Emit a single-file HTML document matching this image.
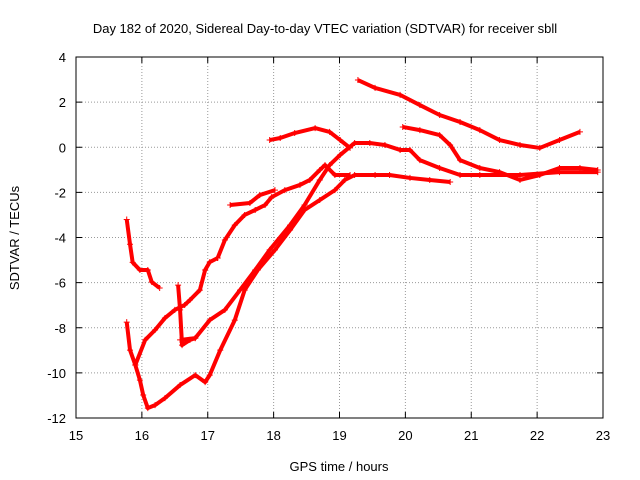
<!DOCTYPE html>
<html><head><meta charset="utf-8"><style>
body{margin:0;background:#fff;}
svg{display:block;font-family:"Liberation Sans",sans-serif;}
</style></head><body>
<svg id="chart" width="640" height="480">
<text x="325" y="33" font-size="13" text-anchor="middle">Day 182 of 2020, Sidereal Day-to-day VTEC variation (SDTVAR) for receiver sbll</text>
<text x="339" y="471" font-size="13" text-anchor="middle">GPS time / hours</text>
<text x="19" y="238" font-size="13" text-anchor="middle" transform="rotate(-90 19 238)">SDTVAR / TECUs</text>
<g id="grid"></g><g id="ticks"></g><g id="series"></g>
<rect x="76" y="57" width="527" height="361" fill="none" stroke="#000"/>
</svg>
<script>
const xTicks=[15,16,17,18,19,20,21,22,23];
const yTicks=[4,2,0,-2,-4,-6,-8,-10,-12];
const trackA_x=[15.77,15.82,15.86,15.97,16.09,16.15,16.27];
const trackA_y=[-3.2,-4.3,-5.1,-5.44,-5.44,-5.97,-6.24];
const trackB_x=[15.77,15.82,15.9,15.97,16.02,16.09,16.2,16.35,16.58,16.81,16.96,17.03,17.19,17.41,17.56,17.76,18.02,18.25,18.47,18.7,18.93,19.08,19.23,19.54,19.76,20.07,20.37,20.68];
const trackB_y=[-7.75,-8.99,-9.65,-10.32,-10.98,-11.56,-11.43,-11.12,-10.54,-10.1,-10.41,-10.1,-8.99,-7.66,-6.33,-5.44,-4.55,-3.67,-2.78,-2.34,-1.9,-1.45,-1.23,-1.23,-1.23,-1.36,-1.45,-1.54];
const trackC_x=[15.9,16.05,16.2,16.35,16.5,16.65,16.73,16.88,16.96,17.03,17.15];
const trackC_y=[-9.65,-8.54,-8.1,-7.57,-7.21,-6.99,-6.77,-6.33,-5.44,-5.09,-4.91];
const trackD_x=[16.58,16.81,17.03,17.26,17.49,17.72,17.94,18.25,18.47,18.7,18.85,19.01,19.23,19.46,19.69,19.92,20.07,20.22,20.52,20.83,21.13,21.74,22.34,22.92];
const trackD_y=[-8.54,-8.46,-7.66,-7.21,-6.33,-5.44,-4.55,-3.45,-2.56,-1.45,-0.79,-0.34,0.19,0.19,0.1,-0.12,-0.12,-0.57,-0.92,-1.23,-1.23,-1.23,-1.1,-1.1];
const trackE_x=[17.15,17.26,17.41,17.56,17.72,17.87,17.97,18.17,18.4,18.55,18.7,18.78,18.93,19.16];
const trackE_y=[-4.91,-4.11,-3.45,-3.0,-2.78,-2.56,-2.21,-1.9,-1.67,-1.45,-1.01,-0.79,-1.23,-1.23];
const trackF_x=[17.34,17.64,17.79,18.02];
const trackF_y=[-2.56,-2.47,-2.12,-1.9];
const trackG_x=[17.94,18.1,18.32,18.63,18.85,19.01,19.16];
const trackG_y=[0.32,0.41,0.63,0.85,0.68,0.32,-0.03];
const trackH_x=[19.28,19.54,19.92,20.22,20.52,20.83,21.13,21.43,21.74,22.04,22.34,22.65];
const trackH_y=[2.98,2.63,2.32,1.87,1.43,1.12,0.76,0.32,0.1,-0.03,0.32,0.68];
const trackI_x=[19.96,20.22,20.52,20.68,20.83,21.13,21.43,21.74,22.04,22.34,22.65,22.92];
const trackI_y=[0.9,0.76,0.54,0.1,-0.57,-0.92,-1.1,-1.45,-1.23,-0.92,-0.92,-1.01];
const trackJ_x=[16.55,16.58,16.61,16.73,16.81];
const trackJ_y=[-6.11,-7.21,-8.77,-8.54,-8.46];
const tracks=[[trackA_x,trackA_y],[trackB_x,trackB_y],[trackC_x,trackC_y],[trackD_x,trackD_y],[trackE_x,trackE_y],[trackF_x,trackF_y],[trackG_x,trackG_y],[trackH_x,trackH_y],[trackI_x,trackI_y],[trackJ_x,trackJ_y]];
const L=76,R=603,T=57,B=418;
const sx=v=>L+(v-15)/8*(R-L);
const sy=v=>T+(4-v)/16*(B-T);
const NS="http://www.w3.org/2000/svg";
const grid=document.getElementById('grid'),ticks=document.getElementById('ticks'),ser=document.getElementById('series');
function mk(tag,attrs,parent){const e=document.createElementNS(NS,tag);for(const k in attrs)e.setAttribute(k,attrs[k]);parent.appendChild(e);return e;}
xTicks.forEach(t=>{const x=sx(t);
 if(t>15&&t<23){const g=mk('line',{x1:x,x2:x,y1:T,y2:B,stroke:'#999','stroke-dasharray':'1,2'},grid);
 
 }
 mk('line',{x1:x,x2:x,y1:B,y2:B-6,stroke:'#000'},ticks);mk('line',{x1:x,x2:x,y1:T,y2:T+6,stroke:'#000'},ticks);
 const l=mk('text',{x:x,y:B+22,'font-size':13,'text-anchor':'middle'},ticks);l.textContent=t;
 
 });
yTicks.forEach(t=>{const y=sy(t);
 if(t<4&&t>-12){const g=mk('line',{x1:L,x2:R,y1:y,y2:y,stroke:'#999','stroke-dasharray':'1,2'},grid);
 
 }
 mk('line',{x1:L,x2:L+6,y1:y,y2:y,stroke:'#000'},ticks);mk('line',{x1:R,x2:R-6,y1:y,y2:y,stroke:'#000'},ticks);
 const l=mk('text',{x:L-10,y:y+5,'font-size':13,'text-anchor':'end'},ticks);l.textContent=t;
 
 });
tracks.forEach((tr,i)=>{const xs=tr[0],ys=tr[1];
 const pts=xs.map((v,j)=>sx(v)+','+sy(ys[j])).join(' ');
 const pl=mk('polyline',{points:pts,fill:'none',stroke:'#f00','stroke-width':4,'stroke-linejoin':'round'},ser);
 
 
 xs.forEach((v,j)=>{const x=sx(v),y=sy(ys[j]);
  const p=mk('path',{d:`M${x-3},${y}H${x+3}M${x},${y-3}V${y+3}`,stroke:'#f00','stroke-width':1},ser);
  
  });});
</script>
</body></html>
